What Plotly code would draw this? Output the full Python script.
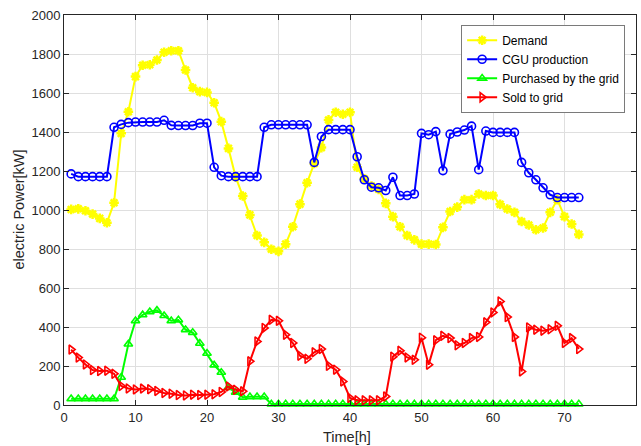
import plotly.graph_objects as go

# Hourly electric power balance over three days
hours = list(range(1, 73))

demand = [1003, 1006, 996, 979, 957, 935, 1037, 1393, 1504, 1684, 1742, 1745,
          1769, 1809, 1817, 1817, 1718, 1627, 1607, 1603, 1550, 1453, 1316, 1170,
          1072, 975, 869, 834, 799, 788, 825, 914, 1030, 1140, 1239, 1320,
          1462, 1501, 1491, 1501, 1219, 1160, 1123, 1106, 1034, 966, 914, 869,
          847, 825, 825, 823, 911, 992, 1015, 1053, 1053, 1082, 1074, 1074,
          1029, 1005, 988, 941, 923, 899, 908, 988, 1053, 966, 928, 875]

cgu = [1185, 1171, 1171, 1171, 1171, 1171, 1424, 1439, 1448, 1451, 1451, 1451,
       1451, 1460, 1434, 1433, 1433, 1433, 1445, 1445, 1219, 1176, 1171, 1171,
       1171, 1171, 1171, 1424, 1437, 1437, 1437, 1437, 1437, 1437, 1244, 1377,
       1412, 1412, 1412, 1412, 1273, 1155, 1117, 1114, 1100, 1168, 1074, 1074,
       1082, 1393, 1386, 1402, 1202, 1389, 1400, 1410, 1430, 1207, 1405, 1398,
       1398, 1398, 1398, 1244, 1191, 1155, 1114, 1078, 1064, 1064, 1064, 1064]

purchased = [32, 32, 32, 32, 32, 32, 32, 142, 312, 432, 462, 478,
             485, 458, 432, 436, 386, 372, 316, 265, 205, 167, 90, 65,
             40, 42, 42, 42, 5, 5, 5, 5, 5, 5, 5, 5,
             5, 5, 5, 5, 5, 5, 5, 5, 5, 5, 5, 5,
             5, 5, 5, 5, 5, 5, 5, 5, 5, 5, 5, 5,
             5, 5, 5, 5, 5, 5, 5, 5, 5, 5, 5, 5]

sold = [284, 243, 208, 179, 174, 176, 160, 98, 85, 80, 84, 81,
        72, 62, 58, 51, 49, 53, 51, 53, 55, 67, 95, 78,
        70, 224, 326, 395, 437, 432, 360, 318, 253, 237, 270, 287,
        201, 181, 121, 36, 24, 24, 24, 24, 44, 248, 278, 244,
        232, 345, 207, 332, 355, 343, 306, 318, 343, 349, 424, 475,
        531, 451, 349, 172, 398, 386, 381, 388, 406, 318, 343, 287]

x_ticks = [0, 10, 20, 30, 40, 50, 60, 70, 80]
y_ticks = [0, 200, 400, 600, 800, 1000, 1200, 1400, 1600, 1800, 2000]

FONT = "Liberation Sans, Arial, sans-serif"
AX = "#262626"

fig = go.Figure()

fig.add_trace(go.Scatter(
    x=hours, y=demand, name="Demand", mode="lines+markers",
    line=dict(color="#FFFF00", width=2),
    marker=dict(symbol="asterisk-open", size=8, color="#FFFF00",
                line=dict(color="#FFFF00", width=2.5)),
    cliponaxis=False))

fig.add_trace(go.Scatter(
    x=hours, y=cgu, name="CGU production", mode="lines+markers",
    line=dict(color="#0000FF", width=2),
    marker=dict(symbol="circle-open", size=8, color="#0000FF",
                line=dict(color="#0000FF", width=1.6)),
    cliponaxis=False))

fig.add_trace(go.Scatter(
    x=hours, y=purchased, name="Purchased by the grid", mode="lines+markers",
    line=dict(color="#00FF00", width=2),
    marker=dict(symbol="triangle-up-open", size=7.5, color="#00FF00",
                line=dict(color="#00FF00", width=1.6)),
    cliponaxis=False))

fig.add_trace(go.Scatter(
    x=hours, y=sold, name="Sold to grid", mode="lines+markers",
    line=dict(color="#FF0000", width=2),
    marker=dict(symbol="triangle-right-open", size=8, color="#FF0000",
                line=dict(color="#FF0000", width=1.6)),
    cliponaxis=False))

axis_common = dict(
    showgrid=True, gridcolor="#dfdfdf", gridwidth=1,
    showline=True, linecolor=AX, linewidth=1, mirror="ticks",
    ticks="inside", ticklen=5, tickcolor=AX, tickwidth=1,
    zeroline=False,
    tickfont=dict(family=FONT, size=13, color=AX),
)

fig.update_xaxes(range=[0, 80], tickmode="array", tickvals=x_ticks,
                 ticktext=[str(v) for v in x_ticks], **axis_common)
fig.update_yaxes(range=[0, 2000], tickmode="array", tickvals=y_ticks,
                 ticktext=[str(v) for v in y_ticks], **axis_common)

fig.update_layout(
    width=641, height=446,
    margin=dict(l=64, r=5, t=15, b=41),
    paper_bgcolor="white", plot_bgcolor="white",
    showlegend=True,
    legend=dict(
        x=0.981, y=0.975, xanchor="right", yanchor="top",
        bgcolor="white", bordercolor="#7a7a7a", borderwidth=1,
        font=dict(family=FONT, size=12, color="#000000"),
        tracegroupgap=0, itemwidth=30,
    ),
    annotations=[
        dict(text="Time[h]", xref="paper", yref="paper", x=0.495, y=-0.082,
             xanchor="center", yanchor="middle", showarrow=False,
             font=dict(family=FONT, size=14.5, color=AX)),
        dict(text="electric Power[kW]", xref="paper", yref="paper",
             x=-0.0795, y=0.5, xanchor="center", yanchor="middle",
             textangle=-90, showarrow=False,
             font=dict(family=FONT, size=14.5, color=AX)),
    ],
)

fig.write_html("out.html")
